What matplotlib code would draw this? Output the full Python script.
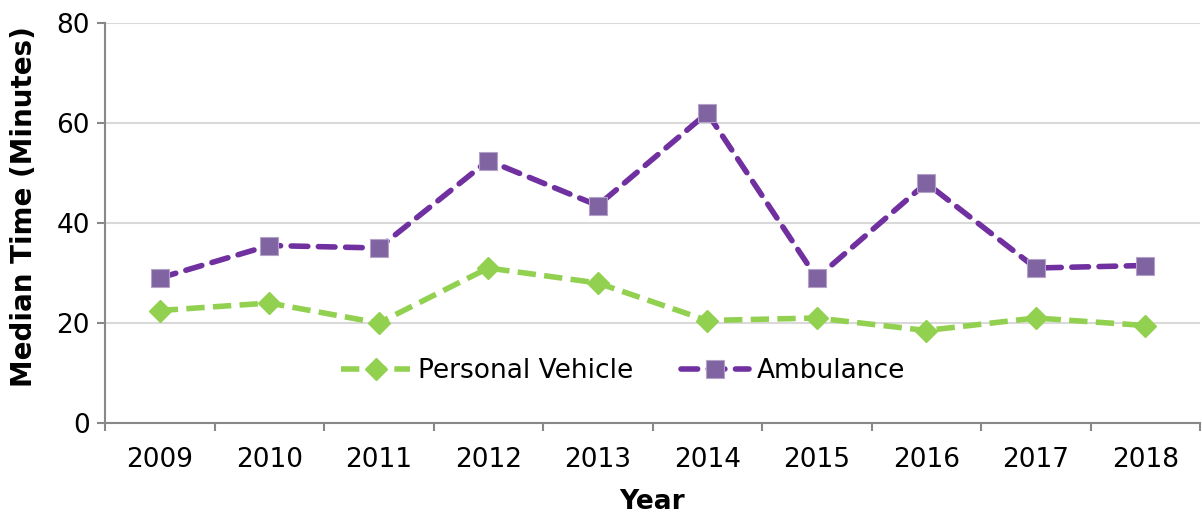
import numpy as np
import matplotlib
matplotlib.use("Agg")
import matplotlib.pyplot as plt

years = ["2009", "2010", "2011", "2012", "2013", "2014", "2015", "2016", "2017", "2018"]
personal_vehicle = [22.5, 24.0, 20.0, 31.0, 28.0, 20.5, 21.0, 18.5, 21.0, 19.5]
ambulance = [29.0, 35.5, 35.0, 52.5, 43.5, 62.0, 29.0, 48.0, 31.0, 31.5]

plt.rcParams['font.family'] = ['DejaVu Sans']

fig = plt.figure(figsize=(12.02, 5.14), dpi=100)
ax = fig.add_axes([105 / 1202, (514 - 423) / 514, 1095 / 1202, 400 / 514])

x = np.arange(len(years))
ax.plot(x, personal_vehicle, color='#92D050', lw=4, dashes=(3.3, 1.5),
        dash_capstyle='butt', marker='D', markersize=11,
        markerfacecolor='#92D050', markeredgecolor='#92D050',
        label='Personal Vehicle', zorder=3)
ax.plot(x, ambulance, color='#7030A0', lw=4, dashes=(3.0, 1.9),
        dash_capstyle='round', marker='s', markersize=12.5,
        markerfacecolor='#8064A2', markeredgecolor='#B3A2C7',
        markeredgewidth=0.8, label='Ambulance', zorder=3)

ax.set_xlim(-0.5, len(years) - 0.5)
ax.set_ylim(0, 80)
ax.set_yticks([0, 20, 40, 60, 80])
ax.set_xticks(x)
ax.set_xticklabels(years)
ax.set_xticks(np.arange(-0.5, len(years), 1), minor=True)
ax.tick_params(axis='x', which='major', length=0, pad=17, labelsize=19)
ax.tick_params(axis='x', which='minor', length=6, width=1.5, color='#888888', direction='out')
ax.tick_params(axis='y', length=6, width=1.5, color='#888888', labelsize=19, pad=5)

ax.grid(axis='y', color='#D9D9D9', lw=1.5)
ax.set_axisbelow(True)
for s in ['top', 'right']:
    ax.spines[s].set_visible(False)
for s in ['left', 'bottom']:
    ax.spines[s].set_color('#888888')
    ax.spines[s].set_linewidth(1.5)

ax.set_xlabel('Year', fontsize=19, fontweight='bold', labelpad=12)
ax.set_ylabel('Median Time (Minutes)', fontsize=20, fontweight='bold')
ax.yaxis.set_label_coords(-0.061, 0.54)

ax.legend(loc='center', bbox_to_anchor=(0.4735, 0.13), ncol=2, frameon=False,
          fontsize=19, handlelength=2.6, columnspacing=1.8, handletextpad=0.3)

fig.savefig('out.png', dpi=100)
